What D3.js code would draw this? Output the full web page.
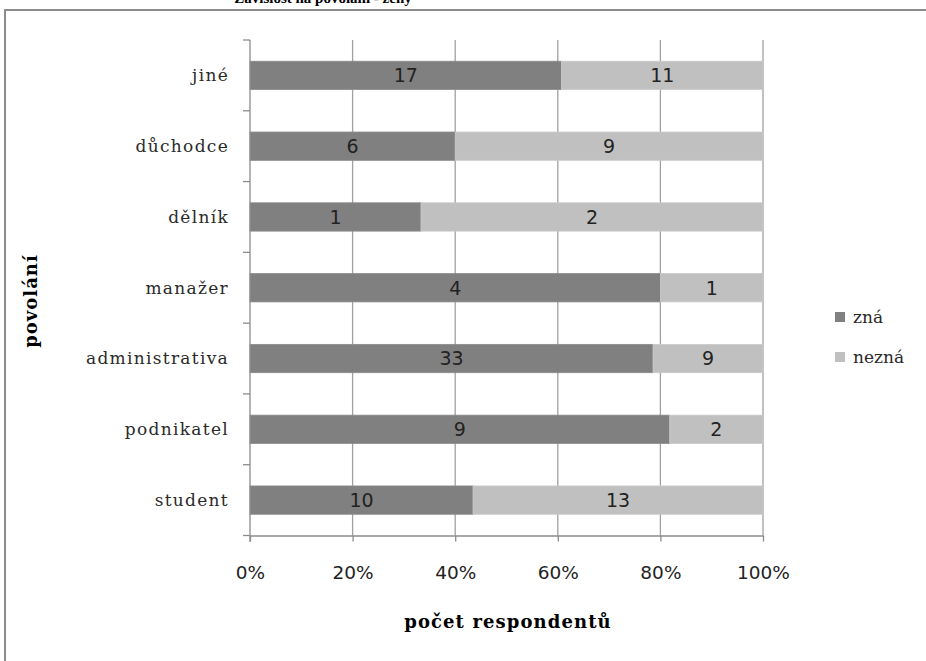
<!DOCTYPE html>
<html>
<head>
<meta charset="utf-8">
<script src="https://cdn.jsdelivr.net/npm/d3@7"></script>
<style>
  html, body { margin: 0; padding: 0; background: #fff; }
  svg { display: block; }
</style>
</head>
<body>
<svg id="chart" width="926" height="661"></svg>
<script>
// Occupation categories, top to bottom
const categories = ["jiné", "důchodce", "dělník", "manažer", "administrativa", "podnikatel", "student"];
// Respondent counts per series
const znaValues = [17, 6, 1, 4, 33, 9, 10];
const neznaValues = [11, 9, 2, 1, 9, 2, 13];
const seriesNames = ["zná", "nezná"];
const xTickValues = [0, 0.2, 0.4, 0.6, 0.8, 1];

const colors = { "zná": "#808080", "nezná": "#c0c0c0" };

const rows = categories.map((c, i) => ({ cat: c, "zná": znaValues[i], "nezná": neznaValues[i] }));
const stacked = d3.stack().keys(seriesNames).offset(d3.stackOffsetExpand)(rows);

const svg = d3.select("#chart");

// Outer frame
svg.append("rect")
  .attr("x", 5).attr("y", 10)
  .attr("width", 930).attr("height", 670)
  .attr("fill", "none").attr("stroke", "#8c8c8c").attr("stroke-width", 2);

// Title (mostly above the visible area)
svg.append("text")
  .attr("x", 323).attr("y", 3)
  .attr("text-anchor", "middle")
  .attr("font-family", "Liberation Serif")
  .attr("font-weight", "bold")
  .attr("font-size", 15)
  .attr("fill", "#000")
  .text("Závislost na povolání - ženy");

const x = d3.scaleLinear().domain([0, 1]).range([250, 763]);
const y = d3.scaleBand().domain(categories).range([40, 535.5]).paddingInner(0.6).paddingOuter(0.3);
const step = y.step();
const top0 = y.range()[0];

// Vertical gridlines
svg.append("g").selectAll("line")
  .data(xTickValues.slice(1))
  .join("line")
  .attr("x1", d => x(d)).attr("x2", d => x(d))
  .attr("y1", 40).attr("y2", 535.5)
  .attr("stroke", "#a0a0a0").attr("stroke-width", 1.3);

// Bars
const layer = svg.append("g").selectAll("g")
  .data(stacked)
  .join("g")
  .attr("fill", d => colors[d.key]);

layer.selectAll("rect")
  .data(d => d.map(v => ({ v, key: d.key })))
  .join("rect")
  .attr("x", d => x(d.v[0]))
  .attr("width", d => x(d.v[1]) - x(d.v[0]))
  .attr("y", d => y(d.v.data.cat))
  .attr("height", y.bandwidth())
  .attr("stroke", d => d.key === "zná" ? "#8a8a8a" : "#cacaca")
  .attr("stroke-width", 0.8);

// Value labels
layer.selectAll("text")
  .data(d => d.map(v => ({ v, key: d.key })))
  .join("text")
  .attr("x", d => (x(d.v[0]) + x(d.v[1])) / 2)
  .attr("y", d => y(d.v.data.cat) + y.bandwidth() / 2)
  .attr("dy", "0.36em")
  .attr("text-anchor", "middle")
  .attr("font-family", "DejaVu Sans")
  .attr("font-size", 19)
  .attr("fill", "#222")
  .text(d => d.v.data[d.key]);

// Y axis line and ticks at category boundaries
const yAxis = svg.append("g").attr("stroke", "#8c8c8c").attr("stroke-width", 1.3);
yAxis.append("line").attr("x1", 250).attr("x2", 250).attr("y1", 40).attr("y2", 542);
yAxis.selectAll("line.tick")
  .data(d3.range(categories.length + 1))
  .join("line")
  .attr("class", "tick")
  .attr("x1", 243).attr("x2", 250)
  .attr("y1", i => top0 + i * step).attr("y2", i => top0 + i * step);

// X axis line and ticks
const xAxisG = svg.append("g").attr("transform", "translate(0,535.5)");
xAxisG.call(d3.axisBottom(x).tickValues(xTickValues).tickFormat(d3.format(".0%")).tickSizeInner(6).tickSizeOuter(0));
xAxisG.select(".domain").attr("stroke", "#8c8c8c").attr("stroke-width", 1.3);
xAxisG.selectAll(".tick line").attr("stroke", "#8c8c8c").attr("stroke-width", 1.3);
xAxisG.selectAll(".tick text")
  .attr("font-family", "DejaVu Sans")
  .attr("font-size", 18.5)
  .attr("fill", "#222")
  .attr("y", 30);

// Category labels
svg.append("g").selectAll("text")
  .data(categories)
  .join("text")
  .attr("x", 229)
  .attr("y", d => y(d) + y.bandwidth() / 2)
  .attr("dy", "0.35em")
  .attr("text-anchor", "end")
  .attr("font-family", "DejaVu Serif")
  .attr("font-size", 17)
  .attr("letter-spacing", 1.3)
  .attr("fill", "#2a2a2a")
  .text(d => d);

// Axis titles
svg.append("text")
  .attr("transform", "translate(37,301) rotate(-90)")
  .attr("text-anchor", "middle")
  .attr("font-family", "DejaVu Serif")
  .attr("font-weight", "bold")
  .attr("font-size", 18)
  .attr("letter-spacing", 1)
  .attr("fill", "#000")
  .text("povolání");

svg.append("text")
  .attr("x", 508).attr("y", 628)
  .attr("text-anchor", "middle")
  .attr("font-family", "DejaVu Serif")
  .attr("font-weight", "bold")
  .attr("font-size", 18)
  .attr("letter-spacing", 1.1)
  .attr("fill", "#000")
  .text("počet respondentů");

// Legend
const legend = svg.append("g").selectAll("g")
  .data(seriesNames)
  .join("g")
  .attr("transform", (d, i) => `translate(835,${312 + i * 40})`);
legend.append("rect")
  .attr("width", 10).attr("height", 10)
  .attr("fill", d => colors[d]);
legend.append("text")
  .attr("x", 18).attr("y", 5)
  .attr("dy", "0.35em")
  .attr("font-family", "DejaVu Serif")
  .attr("font-size", 17)
  .attr("fill", "#2a2a2a")
  .text(d => d);
</script>
</body>
</html>
